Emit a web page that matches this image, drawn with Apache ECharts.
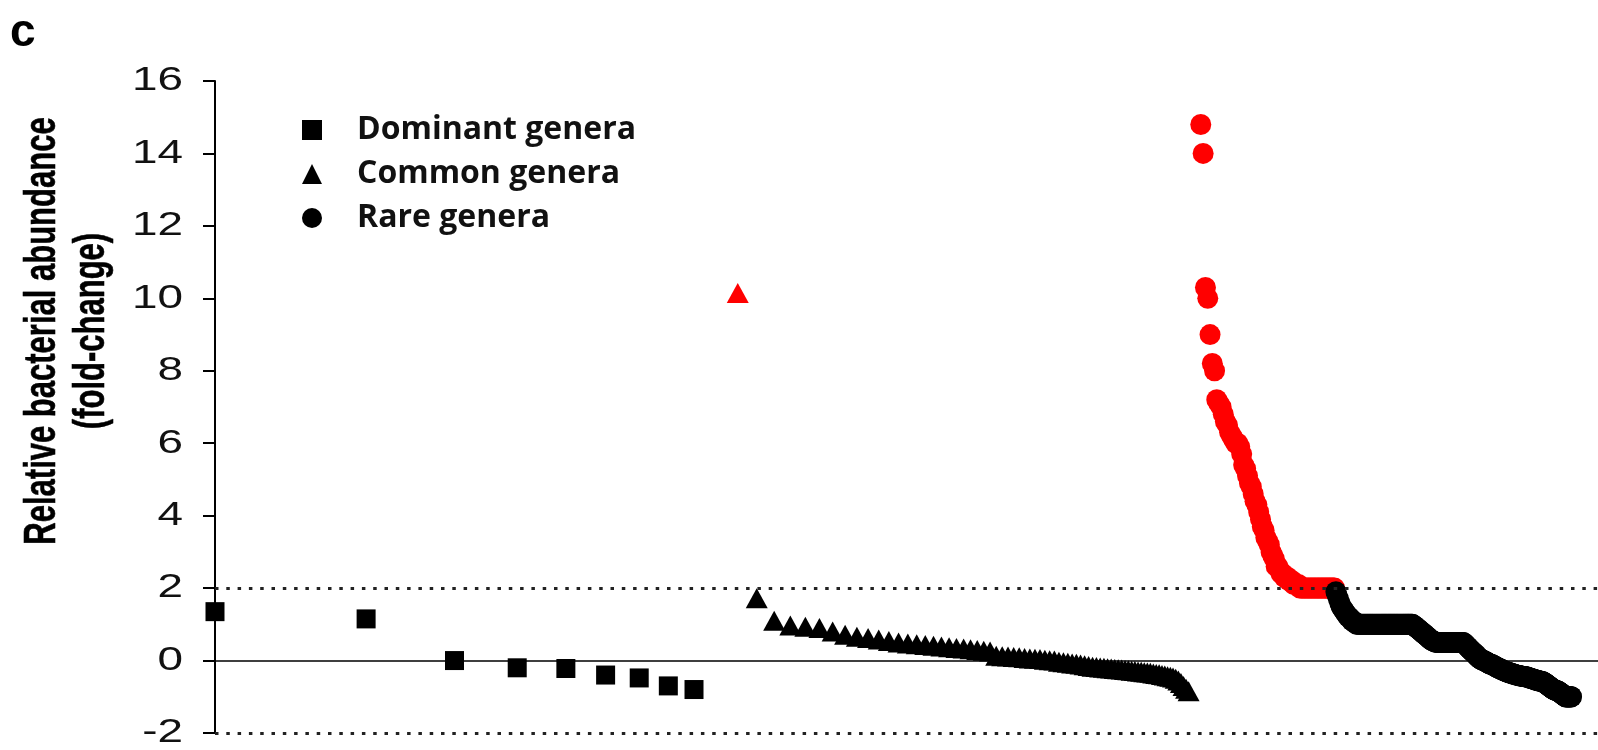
<!DOCTYPE html>
<html>
<head>
<meta charset="utf-8">
<script src="https://cdn.jsdelivr.net/npm/echarts@6/dist/echarts.min.js"></script>
<style>
  html, body { margin: 0; padding: 0; background: #fff; }
  #chart { width: 1598px; height: 750px; }
</style>
</head>
<body>
<div id="chart"></div>
<script>
// Genera ranked by abundance; x = rank (log axis), y = fold-change.
const yMin = -2;
const yMax = 16;
const yStep = 2;
const yTickLabels = ['-2', '0', '2', '4', '6', '8', '10', '12', '14', '16'];
const foldCutoff = 2;

const panelLabel = 'c';
const yTitle = 'Relative bacterial abundance\n(fold-change)';
const seriesNames = ['Dominant genera', 'Common genera', 'Rare genera'];

// Dominant genera, ranks 1-9
const dominantStartRank = 1;
const dominantValues = [1.35, 1.15, 0.0, -0.2, -0.22, -0.4, -0.48, -0.7, -0.8];

// Common genera, ranks 11-87
const commonStartRank = 11;
const commonValues = [
  10.15, 1.72, 1.1, 0.97, 0.93, 0.9, 0.8, 0.71, 0.66, 0.62,
  0.58, 0.54, 0.5, 0.47, 0.45, 0.43, 0.41, 0.39, 0.37, 0.35,
  0.33, 0.31, 0.29, 0.27, 0.25, 0.13, 0.12, 0.11, 0.1, 0.09,
  0.07, 0.06, 0.05, 0.04, 0.02, 0.01, 0.0, -0.03, -0.05, -0.06,
  -0.08, -0.09, -0.11, -0.13, -0.15, -0.17, -0.18, -0.19, -0.2, -0.21,
  -0.22, -0.23, -0.24, -0.25, -0.26, -0.27, -0.28, -0.29, -0.3, -0.31,
  -0.32, -0.33, -0.34, -0.36, -0.37, -0.38, -0.4, -0.41, -0.43, -0.45,
  -0.47, -0.5, -0.55, -0.62, -0.7, -0.78, -0.85
];

// Rare genera, ranks 92-504
const rareStartRank = 92;
const rareValues = [
  14.8, 14.0, 10.3, 10.0, 9.0, 8.2, 8.0, 7.2,
  7.1, 7.0, 6.8, 6.6, 6.5, 6.3, 6.2, 6.1, 6.0, 6.0,
  5.9, 5.7, 5.4, 5.3, 5.1, 4.9, 4.8, 4.6, 4.4, 4.3,
  4.1, 3.9, 3.7, 3.6, 3.4, 3.3, 3.2, 3.0, 2.9, 2.8,
  2.6, 2.6, 2.5, 2.4, 2.4, 2.3, 2.3, 2.3, 2.2, 2.2,
  2.2, 2.1, 2.1, 2.1, 2.1, 2.0, 2.0, 2.0, 2.0, 2.0,
  2.0, 2.0, 2.0, 2.0, 2.0, 2.0, 2.0, 2.0, 2.0, 2.0,
  2.0, 2.0, 2.0, 2.0, 2.0, 2.0, 2.0, 2.0, 2.0, 2.0,
  2.0, 1.9, 1.8, 1.7, 1.6, 1.5, 1.45, 1.4, 1.35, 1.3,
  1.25, 1.2, 1.2, 1.15, 1.1, 1.1, 1.05, 1.05, 1.0, 1.0,
  1.0, 1.0, 1.0, 1.0, 1.0, 1.0, 1.0, 1.0, 1.0, 1.0,
  1.0, 1.0, 1.0, 1.0, 1.0, 1.0, 1.0, 1.0, 1.0, 1.0,
  1.0, 1.0, 1.0, 1.0, 1.0, 1.0, 1.0, 1.0, 1.0, 1.0,
  1.0, 1.0, 1.0, 1.0, 1.0, 1.0, 1.0, 1.0, 1.0, 1.0,
  1.0, 1.0, 1.0, 1.0, 1.0, 1.0, 1.0, 1.0, 1.0, 1.0,
  1.0, 1.0, 1.0, 1.0,
  0.98, 0.96, 0.94, 0.92, 0.9, 0.88, 0.86, 0.84, 0.82, 0.8,
  0.78, 0.76, 0.74, 0.72, 0.7, 0.68, 0.66, 0.64, 0.62, 0.6,
  0.58, 0.56, 0.55, 0.54, 0.53, 0.52, 0.51, 0.5,
  0.5, 0.5, 0.5, 0.5, 0.5, 0.5, 0.5, 0.5, 0.5, 0.5,
  0.5, 0.5, 0.5, 0.5, 0.5, 0.5, 0.5, 0.5, 0.5, 0.5,
  0.5, 0.5, 0.5, 0.5, 0.5, 0.5, 0.5, 0.5, 0.5, 0.5,
  0.5, 0.5, 0.5, 0.5, 0.5, 0.5,
  0.48, 0.46, 0.44, 0.42, 0.4, 0.38, 0.36, 0.34, 0.32, 0.3,
  0.28, 0.26, 0.25, 0.23, 0.21, 0.2, 0.18, 0.16, 0.14, 0.12,
  0.1, 0.08, 0.07, 0.05, 0.04, 0.03, 0.02, 0.01, 0.0, 0.0,
  -0.01, -0.02, -0.03, -0.04, -0.05, -0.06, -0.07, -0.08, -0.09, -0.1,
  -0.1, -0.11, -0.11, -0.12,
  -0.13, -0.14, -0.15, -0.16, -0.17, -0.18, -0.19, -0.2, -0.2, -0.21,
  -0.22, -0.23, -0.24, -0.24, -0.25, -0.26, -0.27, -0.28, -0.28, -0.29,
  -0.3, -0.3, -0.31, -0.31, -0.32, -0.33, -0.33, -0.34, -0.34, -0.35,
  -0.35, -0.36, -0.36, -0.37, -0.37, -0.38, -0.38, -0.39, -0.39, -0.4,
  -0.4, -0.4, -0.41, -0.41, -0.41, -0.42, -0.42, -0.42, -0.43, -0.43,
  -0.43, -0.43, -0.44, -0.44, -0.44, -0.44, -0.45, -0.45, -0.45,
  -0.46, -0.46, -0.47, -0.47, -0.48, -0.48, -0.49, -0.49, -0.5, -0.5,
  -0.5, -0.51, -0.51, -0.52, -0.52, -0.53, -0.53, -0.54, -0.54, -0.55,
  -0.55, -0.55, -0.56, -0.56, -0.56, -0.57, -0.57, -0.57, -0.58, -0.58, -0.58, -0.59, -0.6,
  -0.6, -0.61, -0.62, -0.63, -0.64, -0.65, -0.66, -0.67, -0.68, -0.69,
  -0.7, -0.71, -0.72, -0.73, -0.74, -0.75, -0.76, -0.77, -0.78, -0.79,
  -0.8, -0.8, -0.81, -0.81, -0.82, -0.82, -0.83, -0.83, -0.84, -0.84, -0.85, -0.85, -0.86,
  -0.87, -0.88, -0.89, -0.9, -0.91, -0.92, -0.93, -0.94, -0.95, -0.96,
  -0.97, -0.98, -0.99, -1.0, -1.0, -1.0, -1.0, -1.0, -1.0, -1.0,
  -1.0, -1.0, -1.0, -1.0, -1.0, -1.0, -1.0, -1.0
];

const RED = '#ff0000';
const BLACK = '#000000';
const SANS = 'Liberation Sans, Arial, sans-serif';

function ranked(startRank, values) {
  return values.map((v, k) => [startRank + k, v]);
}

// Genera at or above the fold-change cutoff are drawn in red.
function cutoffColor(p) {
  return p.value[1] >= foldCutoff ? RED : BLACK;
}

const chart = echarts.init(document.getElementById('chart'), null, { renderer: 'canvas' });

chart.setOption({
  animation: false,
  backgroundColor: '#ffffff',
  grid: { left: 215, right: 0, top: 81, bottom: 17, containLabel: false },
  xAxis: {
    type: 'log',
    logBase: 10,
    min: 1,
    max: 569,
    axisLine: { show: true, onZero: true, lineStyle: { color: '#000', width: 1.5 } },
    axisTick: { show: false },
    axisLabel: { show: false },
    splitLine: { show: false }
  },
  yAxis: {
    type: 'value',
    min: yMin,
    max: yMax,
    interval: yStep,
    axisLine: { show: true, lineStyle: { color: '#000', width: 2 } },
    axisTick: { show: true, inside: false, length: 12, lineStyle: { color: '#000', width: 2 } },
    // tick labels are drawn as wide graphic text below
    axisLabel: { show: false },
    splitLine: { show: false }
  },
  legend: {
    show: true,
    orient: 'vertical',
    left: 297,
    top: 109,
    itemWidth: 20,
    itemHeight: 20,
    itemGap: 12,
    selectedMode: false,
    textStyle: {
      fontFamily: 'Open Sans, Noto Sans, sans-serif',
      fontWeight: 700,
      fontSize: 32,
      lineHeight: 30,
      color: '#111',
      padding: [0, 0, 0, 30]
    },
    data: [
      { name: seriesNames[0], icon: 'rect', itemStyle: { color: BLACK } },
      { name: seriesNames[1], icon: 'triangle', itemStyle: { color: BLACK } },
      { name: seriesNames[2], icon: 'circle', itemStyle: { color: BLACK } }
    ]
  },
  series: [
    {
      name: seriesNames[0],
      type: 'scatter',
      symbol: 'rect',
      symbolSize: 19,
      itemStyle: { color: cutoffColor, opacity: 1 },
      data: ranked(dominantStartRank, dominantValues),
      markLine: {
        silent: true,
        symbol: ['none', 'none'],
        label: { show: false },
        lineStyle: { color: '#222', width: 3, type: [3.5, 7.8] },
        data: [{ yAxis: foldCutoff }, { yAxis: -foldCutoff }]
      },
      z: 3
    },
    {
      name: seriesNames[1],
      type: 'scatter',
      symbol: 'triangle',
      symbolSize: [22, 20],
      itemStyle: { color: cutoffColor, opacity: 1 },
      data: ranked(commonStartRank, commonValues),
      z: 3
    },
    {
      name: seriesNames[2],
      type: 'scatter',
      symbol: 'circle',
      symbolSize: 21,
      itemStyle: { color: cutoffColor, opacity: 1 },
      data: ranked(rareStartRank, rareValues),
      z: 3
    }
  ]
});

// Text layer: panel letter, stretched y-axis title and tick labels placed through the y scale.
const texts = [
  {
    type: 'text',
    id: 'panel',
    x: 10,
    y: 10,
    style: { text: panelLabel, font: 'bold 46px ' + SANS, fill: '#000' }
  },
  {
    type: 'text',
    id: 'ytitle',
    x: 67,
    y: 331,
    rotation: Math.PI / 2,
    scaleX: 1,
    scaleY: 1.45,
    style: {
      text: yTitle,
      font: 'bold 31px ' + SANS,
      lineHeight: 34,
      align: 'center',
      verticalAlign: 'middle',
      fill: '#000',
      stroke: '#000',
      lineWidth: 0.4
    }
  }
];
yTickLabels.forEach((label, k) => {
  const py = chart.convertToPixel({ yAxisIndex: 0 }, Number(label));
  texts.push({
    type: 'text',
    id: 'ytick' + k,
    x: 183,
    y: py,
    scaleX: 1.35,
    style: {
      text: label,
      font: '34px ' + SANS,
      align: 'right',
      verticalAlign: 'middle',
      fill: '#111'
    }
  });
});
chart.setOption({ graphic: texts });
</script>
</body>
</html>
